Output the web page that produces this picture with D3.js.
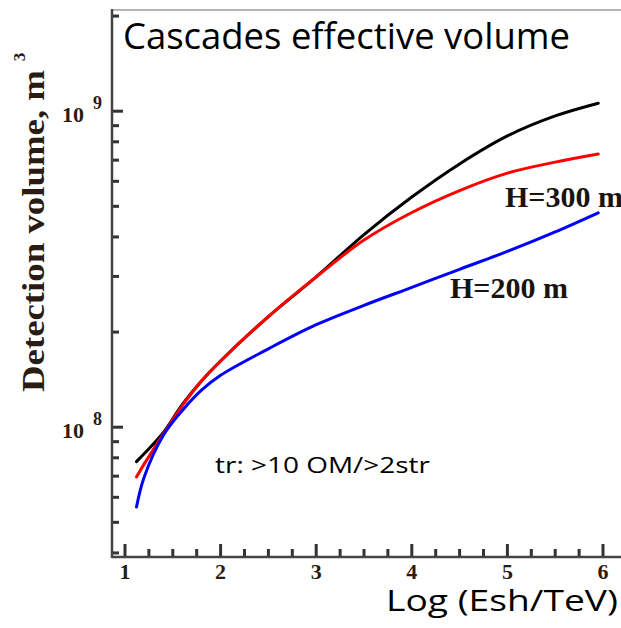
<!DOCTYPE html>
<html>
<head>
<meta charset="utf-8">
<script src="https://cdn.jsdelivr.net/npm/d3@7"></script>
<style>
  body { margin: 0; background: #fff; }
  svg { display: block; }
</style>
</head>
<body>
<div id="cascade-graph"></div>
<script>
// Cascades effective volume graph

// data
var energy = [1.12, 1.2, 1.4, 1.6, 1.8, 2.0, 2.5, 3.0, 3.5, 4.0, 4.5, 5.0, 5.5, 5.95]
var volBlack = [7.78e7, 8.24e7, 9.6e7, 1.18e8, 1.40e8, 1.62e8, 2.24e8, 2.99e8, 4.07e8, 5.35e8, 6.81e8, 8.35e8, 9.66e8, 1.06e9]
var vol300 = [6.96e7, 7.64e7, 9.49e7, 1.17e8, 1.40e8, 1.62e8, 2.24e8, 2.99e8, 3.91e8, 4.78e8, 5.61e8, 6.37e8, 6.90e8, 7.32e8]
var vol200 = [5.59e7, 6.95e7, 9.42e7, 1.13e8, 1.31e8, 1.46e8, 1.77e8, 2.11e8, 2.43e8, 2.77e8, 3.16e8, 3.60e8, 4.15e8, 4.77e8]
var xTicks = [1, 2, 3, 4, 5, 6]
var yDecades = [8, 9]
var curveLabels = ["H=300 m", "H=200 m"]

var Graph = {}

// Set up the svg and the scales
function SetUpGraph(){
  Graph.w = 621
  Graph.h = 628
  Graph.left = 112
  Graph.top = 10
  Graph.bottom = 557

  Graph.svg = d3.select("#cascade-graph").append("svg")
    .attr("width", Graph.w)
    .attr("height", Graph.h)

  Graph.x = d3.scaleLinear().domain([1, 6]).range([125, 603])
  Graph.y = d3.scaleLog().domain([1e8, 1e9]).range([427.2, 111.2])
}

// frame and ticks, ticks point inward like the original
function DrawAxes(){
  var svg = Graph.svg
  var x = Graph.x, y = Graph.y

  svg.append("line")
    .attr("x1", Graph.left).attr("x2", Graph.w)
    .attr("y1", Graph.top).attr("y2", Graph.top)
    .attr("stroke", "#b5b5b5").attr("stroke-width", 2)

  // tick marks as small rects
  var xVals = d3.range(0, 21).map(function(i){ return 1 + i * 0.25 })
  svg.selectAll(".xtick").data(xVals).enter().append("rect")
    .attr("class", "xtick")
    .attr("x", function(d){ return x(d) - 1.5 })
    .attr("width", 3)
    .attr("y", function(d, i){ return Graph.bottom - (i % 4 == 0 ? 13 : 8) })
    .attr("height", function(d, i){ return i % 4 == 0 ? 13 : 8 })
    .attr("fill", "#333")

  var yVals = []
  for (var k = 7; k <= 9; k++){
    for (var m = 1; m <= 9; m++){
      var v = m * Math.pow(10, k)
      if (y(v) > Graph.top + 2 && y(v) < Graph.bottom - 2) yVals.push({v: v, major: m == 1})
    }
  }
  svg.selectAll(".ytick").data(yVals).enter().append("rect")
    .attr("class", "ytick")
    .attr("x", Graph.left)
    .attr("width", function(d){ return d.major ? 11 : 7 })
    .attr("y", function(d){ return y(d.v) - 1.5 })
    .attr("height", 3)
    .attr("fill", "#333")

  // frame lines
  svg.append("line")
    .attr("x1", Graph.left).attr("x2", Graph.left)
    .attr("y1", Graph.top - 1).attr("y2", Graph.bottom + 1)
    .attr("stroke", "#444").attr("stroke-width", 2.5)
  svg.append("line")
    .attr("x1", Graph.left).attr("x2", Graph.w)
    .attr("y1", Graph.bottom).attr("y2", Graph.bottom)
    .attr("stroke", "#444").attr("stroke-width", 2.5)

  // x tick labels
  svg.selectAll(".xlab").data(xTicks).enter().append("text")
    .attr("class", "xlab")
    .attr("x", function(d){ return x(d) })
    .attr("y", 579)
    .attr("text-anchor", "middle")
    .attr("font-family", "Liberation Serif, serif")
    .attr("font-weight", "bold")
    .attr("font-size", 22)
    .attr("fill", "#2a1c12")
    .text(function(d){ return d })

  // y decade labels 10^8, 10^9
  var ylab = svg.selectAll(".ylab").data(yDecades).enter().append("text")
    .attr("class", "ylab")
    .attr("x", 62)
    .attr("y", function(d){ return y(Math.pow(10, d)) + 11 })
    .attr("font-family", "Liberation Serif, serif")
    .attr("font-weight", "bold")
    .attr("font-size", 22)
    .attr("fill", "#2a1c12")
  ylab.append("tspan").text("10")
  ylab.append("tspan")
    .attr("dx", 9).attr("dy", -13)
    .attr("font-size", 18)
    .text(function(d){ return d })

  // y axis title
  svg.append("text")
    .attr("transform", "translate(44,392) rotate(-90)")
    .attr("font-family", "Liberation Serif, serif")
    .attr("font-weight", "bold")
    .attr("font-size", 31)
    .attr("textLength", 322)
    .attr("lengthAdjust", "spacingAndGlyphs")
    .attr("fill", "#2a1c12")
    .text("Detection volume, m")
  svg.append("text")
    .attr("transform", "translate(25,57) rotate(-90)")
    .attr("text-anchor", "middle")
    .attr("font-family", "Liberation Serif, serif")
    .attr("font-weight", "bold")
    .attr("font-size", 17)
    .attr("fill", "#2a1c12")
    .text("3")
}

// This function adds one curve
function AddCurve(values, color){
  var pts = energy.map(function(e, i){ return [e, values[i]] })
  var line = d3.line()
    .x(function(d){ return Graph.x(d[0]) })
    .y(function(d){ return Graph.y(d[1]) })
    .curve(d3.curveCatmullRom.alpha(0.5))
  Graph.svg.append("path")
    .datum(pts)
    .attr("d", line)
    .attr("fill", "none")
    .attr("stroke", color)
    .attr("stroke-width", 3)
    .attr("stroke-linecap", "round")
}

function AddTexts(){
  var svg = Graph.svg
  svg.append("text")
    .attr("x", 123).attr("y", 49)
    .attr("font-family", "Open Sans, sans-serif")
    .attr("font-size", 36)
    .attr("textLength", 447)
    .attr("lengthAdjust", "spacingAndGlyphs")
    .text("Cascades effective volume")

  svg.append("text")
    .attr("x", 386).attr("y", 611)
    .attr("font-family", "Open Sans, sans-serif")
    .attr("font-size", 30)
    .attr("textLength", 232)
    .attr("lengthAdjust", "spacingAndGlyphs")
    .text("Log (Esh/TeV)")

  svg.append("text")
    .attr("x", 215).attr("y", 473)
    .attr("font-family", "Open Sans, sans-serif")
    .attr("font-size", 21)
    .attr("textLength", 215)
    .attr("lengthAdjust", "spacingAndGlyphs")
    .text("tr: >10 OM/>2str")

  svg.selectAll(".hlab").data(curveLabels).enter().append("text")
    .attr("class", "hlab")
    .attr("x", function(d, i){ return i == 0 ? 505 : 450 })
    .attr("y", function(d, i){ return i == 0 ? 207 : 298 })
    .attr("font-family", "Liberation Serif, serif")
    .attr("font-weight", "bold")
    .attr("font-size", 30)
    .attr("fill", "#1a1410")
    .text(function(d){ return d })
}

SetUpGraph()
DrawAxes()
AddCurve(volBlack, "#000")
AddCurve(vol300, "#ff0000")
AddCurve(vol200, "#0000ff")
AddTexts()
</script>
</body>
</html>
